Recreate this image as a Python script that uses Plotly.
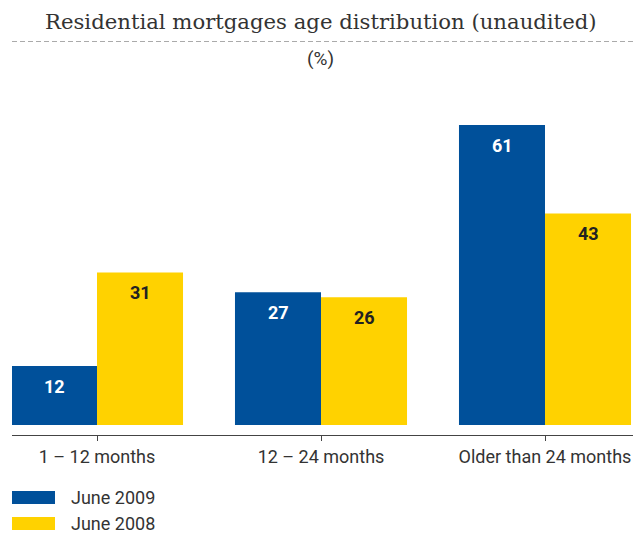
import plotly.graph_objects as go

categories = ["1 – 12 months", "12 – 24 months", "Older than 24 months"]
series_names = ["June 2009", "June 2008"]
june_2009 = [12, 27, 61]
june_2008 = [31, 26, 43]

BLUE = "#00509A"
YELLOW = "#FFD200"
TEXT = "#333333"
LABEL_FONT = "Roboto, Liberation Sans Narrow, sans-serif"

W, H = 633, 533
ML, MR, MT, MB = 12, 0, 80, 98

x_idx = list(range(len(categories)))

fig = go.Figure()
fig.add_trace(go.Bar(x=x_idx, y=june_2009, name=series_names[0], marker=dict(color=BLUE, line=dict(width=0)),
                     showlegend=False, hoverinfo="skip"))
fig.add_trace(go.Bar(x=x_idx, y=june_2008, name=series_names[1], marker=dict(color=YELLOW, line=dict(width=0)),
                     showlegend=False, hoverinfo="skip"))

annotations = []
for i, v in enumerate(june_2009):
    annotations.append(dict(x=i, y=v, xref="x", yref="y", text=f"<b>{v}</b>", showarrow=False,
                            xshift=-43, yshift=-20, font=dict(family=LABEL_FONT, size=18, color="white")))
for i, v in enumerate(june_2008):
    annotations.append(dict(x=i, y=v, xref="x", yref="y", text=f"<b>{v}</b>", showarrow=False,
                            xshift=43, yshift=-20, font=dict(family=LABEL_FONT, size=18, color="#222222")))

H_PLOT = H - MT - MB
W_PLOT = W - ML - MR
def py(pix):
    return (H - MB - pix) / H_PLOT
def px(pix):
    return (pix - ML) / W_PLOT

annotations.append(dict(x=px(321), y=py(21), xref="paper", yref="paper", xanchor="center", yanchor="middle",
                        text="Residential mortgages age distribution (unaudited)", showarrow=False,
                        font=dict(family="DejaVu Serif, serif", size=21.2, color=TEXT)))
annotations.append(dict(x=px(320), y=py(58), xref="paper", yref="paper", xanchor="center", yanchor="middle",
                        text="(%)", showarrow=False,
                        font=dict(family=LABEL_FONT, size=19, color=TEXT)))

shapes = [dict(type="line", xref="paper", yref="paper", x0=px(12), x1=px(633), y0=py(41.5), y1=py(41.5),
               line=dict(color="#AAAAAA", width=1, dash="5px,3px"))]

legend_rows = [(series_names[0], BLUE, 497.5), (series_names[1], YELLOW, 523.5)]
for name, color, yc in legend_rows:
    shapes.append(dict(type="rect", xref="paper", yref="paper", x0=px(12), x1=px(55), y0=py(yc - 6.5), y1=py(yc + 6.5),
                       fillcolor=color, line=dict(width=0)))
    annotations.append(dict(x=px(70), y=py(yc), xref="paper", yref="paper", xanchor="left", yanchor="middle",
                            text=name, showarrow=False, borderpad=0,
                            font=dict(family=LABEL_FONT, size=18, color=TEXT)))

fig.update_layout(
    width=W, height=H,
    margin=dict(l=ML, r=MR, t=MT, b=MB, pad=0),
    paper_bgcolor="white", plot_bgcolor="white",
    barmode="group", bargap=0.232, bargroupgap=0,
    xaxis=dict(range=[(ML - 97) / 224, (W - 97) / 224], tickmode="array", tickvals=x_idx, ticktext=categories,
               showline=True, linecolor="#444444", linewidth=1, ticks="outside", ticklen=5,
               tickcolor="#444444", showgrid=False, zeroline=False, ticklabeloverflow="allow",
               tickfont=dict(family=LABEL_FONT, size=18, color=TEXT)),
    yaxis=dict(range=[-2.03, 70.15], visible=False, showgrid=False, zeroline=False),
    annotations=annotations, shapes=shapes,
)
fig.write_html("out.html")
